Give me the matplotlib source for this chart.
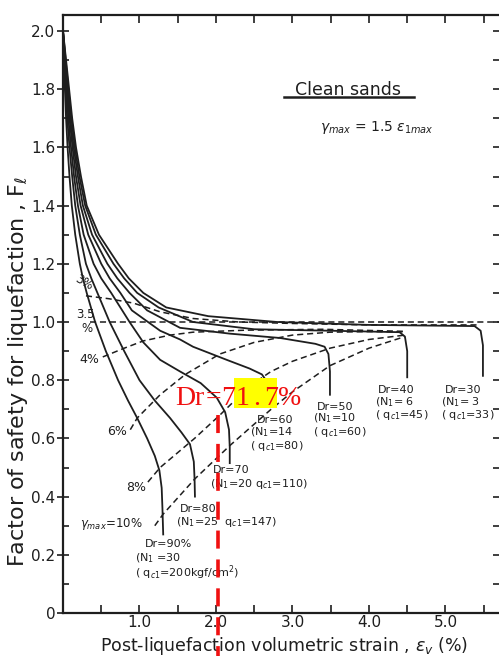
import matplotlib.pyplot as plt
from matplotlib.patches import Rectangle
from matplotlib.ticker import MultipleLocator

# solid curves, one per relative density Dr (%)
dr90_x = [0.0, 0.01, 0.025, 0.04, 0.06, 0.085, 0.115, 0.16, 0.22, 0.26, 0.31, 0.42, 0.56, 0.72, 0.85,
          0.97, 1.10, 1.20, 1.26, 1.29, 1.30, 1.31]
dr90_y = [2.0, 1.9, 1.8, 1.7, 1.6, 1.5, 1.4, 1.3, 1.2, 1.15, 1.1, 1.0, 0.90, 0.80, 0.73,
          0.67, 0.60, 0.54, 0.49, 0.43, 0.36, 0.27]
dr80_x = [0.0, 0.015, 0.035, 0.055, 0.085, 0.12, 0.16, 0.22, 0.30, 0.37, 0.45, 0.61, 0.80, 1.00, 1.20,
          1.40, 1.55, 1.66, 1.71, 1.72, 1.725]
dr80_y = [2.0, 1.9, 1.8, 1.7, 1.6, 1.5, 1.4, 1.3, 1.2, 1.15, 1.1, 1.0, 0.90, 0.80, 0.73,
          0.67, 0.62, 0.58, 0.52, 0.46, 0.40]
dr70_x = [0.0, 0.02, 0.045, 0.07, 0.105, 0.145, 0.195, 0.27, 0.40, 0.50, 0.63, 0.87, 1.05, 1.27, 1.53,
          1.80, 2.01, 2.12, 2.17, 2.18, 2.18]
dr70_y = [2.0, 1.9, 1.8, 1.7, 1.6, 1.5, 1.4, 1.3, 1.2, 1.15, 1.1, 1.0, 0.93, 0.87, 0.83,
          0.79, 0.74, 0.69, 0.63, 0.57, 0.515]
dr60_x = [0.0, 0.025, 0.055, 0.085, 0.125, 0.17, 0.23, 0.33, 0.50, 0.61, 0.75, 0.90, 1.27, 1.53, 1.70,
          2.14, 2.44, 2.60, 2.68, 2.71, 2.72]
dr60_y = [2.0, 1.9, 1.8, 1.7, 1.6, 1.5, 1.4, 1.3, 1.2, 1.15, 1.1, 1.04, 0.97, 0.94, 0.915,
          0.87, 0.84, 0.82, 0.79, 0.75, 0.72]
dr50_x = [0.0, 0.03, 0.06, 0.095, 0.14, 0.195, 0.26, 0.38, 0.58, 0.71, 0.87, 1.10, 1.53, 2.18, 2.84,
          3.30, 3.42, 3.47, 3.49, 3.49]
dr50_y = [2.0, 1.9, 1.8, 1.7, 1.6, 1.5, 1.4, 1.3, 1.2, 1.15, 1.1, 1.04, 0.98, 0.96, 0.945,
          0.925, 0.915, 0.89, 0.83, 0.75]
dr40_x = [0.0, 0.035, 0.07, 0.11, 0.155, 0.215, 0.29, 0.43, 0.66, 0.80, 0.97, 1.25, 1.70, 2.50, 3.50,
          4.40, 4.47, 4.50, 4.50]
dr40_y = [2.0, 1.9, 1.8, 1.7, 1.6, 1.5, 1.4, 1.3, 1.2, 1.15, 1.1, 1.05, 1.00, 0.975, 0.97,
          0.965, 0.95, 0.90, 0.81]
dr30_x = [0.0, 0.04, 0.08, 0.12, 0.17, 0.235, 0.31, 0.47, 0.72, 0.86, 1.05, 1.35, 1.90, 2.80, 4.00,
          5.38, 5.46, 5.49, 5.49]
dr30_y = [2.0, 1.9, 1.8, 1.7, 1.6, 1.5, 1.4, 1.3, 1.2, 1.15, 1.1, 1.05, 1.02, 1.00, 0.99,
          0.986, 0.97, 0.92, 0.815]

# dashed curves of equal maximum shear strain
g3_x = [0.30, 0.60, 0.92, 1.27, 1.70, 2.30, 3.00, 4.00, 5.45]
g3_y = [1.09, 1.08, 1.065, 1.035, 1.012, 1.0, 0.995, 0.99, 0.99]
g4_x = [0.52, 0.80, 1.05, 1.40, 1.70, 2.40, 3.40, 4.45]
g4_y = [0.88, 0.91, 0.935, 0.955, 0.965, 0.972, 0.975, 0.968]
g6_x = [0.88, 0.97, 1.27, 1.60, 2.05, 2.50, 3.00, 3.49, 4.00, 4.47]
g6_y = [0.63, 0.67, 0.75, 0.82, 0.89, 0.93, 0.955, 0.965, 0.967, 0.966]
g8_x = [1.11, 1.27, 1.72, 2.05, 2.44, 2.72, 3.00, 3.49, 4.00, 4.47]
g8_y = [0.45, 0.50, 0.60, 0.68, 0.78, 0.83, 0.865, 0.91, 0.94, 0.955]
g10_x = [1.20, 1.31, 1.72, 2.00, 2.18, 2.72, 3.00, 3.49, 4.00, 4.47]
g10_y = [0.30, 0.34, 0.46, 0.53, 0.575, 0.70, 0.76, 0.85, 0.91, 0.95]

fs_line = 1.0     # factor of safety = 1.0
ev_marker = 2.02  # red marker strain
dr_text = 'Dr=71.7'

yticks = [0, 0.2, 0.4, 0.6, 0.8, 1.0, 1.2, 1.4, 1.6, 1.8, 2.0]
ytick_labels = ['0', '0.2', '0.4', '0.6', '0.8', '1.0', '1.2', '1.4', '1.6', '1.8', '2.0']
xticks = [1, 2, 3, 4, 5]
xtick_labels = ['1.0', '2.0', '3.0', '4.0', '5.0']

ink = '#1e1e1e'

fig = plt.figure(figsize=(4.99, 6.56), dpi=100)
ax = fig.add_axes([63/499, 1-613/656, 436/499, 598/656])

for xs, ys in [(dr90_x, dr90_y), (dr80_x, dr80_y), (dr70_x, dr70_y), (dr60_x, dr60_y),
               (dr50_x, dr50_y), (dr40_x, dr40_y), (dr30_x, dr30_y)]:
    ax.plot(xs, ys, color=ink, lw=1.3, solid_joinstyle='round')

for xs, ys in [(g3_x, g3_y), (g4_x, g4_y), (g6_x, g6_y), (g8_x, g8_y), (g10_x, g10_y)]:
    ax.plot(xs, ys, color=ink, lw=1.1, dashes=(4, 2.5))

ax.axhline(fs_line, xmin=0.35/5.70, color=ink, lw=1.1, dashes=(4, 2.5))

ax.set_xlim(0, 5.70)
ax.set_ylim(0, 2.055)

ax.set_xticks(xticks)
ax.set_xticklabels(xtick_labels)
ax.set_yticks(yticks)
ax.set_yticklabels(ytick_labels)
ax.xaxis.set_minor_locator(MultipleLocator(0.5))
ax.yaxis.set_minor_locator(MultipleLocator(0.1))
ax.tick_params(axis='both', which='both', direction='in', top=True, right=True,
               labelsize=11, colors=ink, width=1.2)
ax.tick_params(axis='both', which='major', length=6)
ax.tick_params(axis='both', which='minor', length=4)
ax.tick_params(axis='x', which='minor', top=True, length=6)
ax.tick_params(axis='x', which='major', pad=1.5)
ax.tick_params(axis='y', which='major', direction='inout', length=8, pad=1.5)
for side in ['left', 'bottom', 'top']:
    ax.spines[side].set_linewidth(1.6)
    ax.spines[side].set_color(ink)
ax.spines['right'].set_visible(False)

ax.set_xlabel('Post-liquefaction volumetric strain , $\\epsilon_v$ (%)', fontsize=12.5, color=ink)
ax.xaxis.set_label_coords(0.507, -0.037)
ax.set_ylabel('Factor of safety for liquefaction , F$_\\ell$', fontsize=16, color=ink)
ax.yaxis.set_label_coords(-0.076, 0.405)

# headings
ax.text(3.725, 1.78, 'Clean sands', fontsize=12.5, ha='center', va='baseline', color=ink)
ax.plot([0.507, 0.806], [0.863, 0.863], transform=ax.transAxes, color=ink, lw=1.8)
ax.text(4.1, 1.67, '$\\gamma_{max}$ = 1.5 $\\varepsilon_{1max}$', fontsize=10, ha='center', va='center', color=ink)

# strain labels
ax.text(0.13, 1.11, '3%', fontsize=8.5, color=ink, rotation=-30)
ax.text(0.17, 1.015, '3.5', fontsize=8.5, color=ink)
ax.text(0.24, 0.965, '%', fontsize=8.5, color=ink)
ax.text(0.22, 0.86, '4%', fontsize=9, color=ink)
ax.text(0.58, 0.61, '6%', fontsize=9, color=ink)
ax.text(0.82, 0.42, '8%', fontsize=9, color=ink)
ax.text(0.22, 0.295, '$\\gamma_{max}$=10%', fontsize=8.5, color=ink)

# density labels
lab = dict(fontsize=8, color=ink, va='center')
ax.text(1.07, 0.236, 'Dr=90%', **lab)
ax.text(0.94, 0.19, '(N$_1$ =30', **lab)
ax.text(0.94, 0.139, '( q$_{c1}$=200kgf/cm$^2$)', **lab)
ax.text(1.53, 0.356, 'Dr=80', **lab)
ax.text(1.48, 0.312, '(N$_1$=25  q$_{c1}$=147)', **lab)
ax.text(1.96, 0.49, 'Dr=70', **lab)
ax.text(1.92, 0.443, '(N$_1$=20 q$_{c1}$=110)', **lab)
ax.text(2.53, 0.663, 'Dr=60', **lab)
ax.text(2.45, 0.622, '(N$_1$=14', **lab)
ax.text(2.45, 0.574, '( q$_{c1}$=80)', **lab)
ax.text(3.32, 0.708, 'Dr=50', **lab)
ax.text(3.27, 0.668, '(N$_1$=10', **lab)
ax.text(3.27, 0.622, '( q$_{c1}$=60)', **lab)
ax.text(4.12, 0.766, 'Dr=40', **lab)
ax.text(4.08, 0.725, '(N$_1$= 6', **lab)
ax.text(4.08, 0.68, '( q$_{c1}$=45)', **lab)
ax.text(4.99, 0.766, 'Dr=30', **lab)
ax.text(4.94, 0.725, '(N$_1$= 3', **lab)
ax.text(4.94, 0.68, '( q$_{c1}$=33)', **lab)

# red marker line and highlighted value
ax.plot([ev_marker, ev_marker], [0.68, -0.15], color='#f01010', lw=2.6, dashes=(5, 3),
        clip_on=False, zorder=5)
ax.add_patch(Rectangle((2.235, 0.705), 0.562, 0.103, facecolor='#ffff00', edgecolor='none', zorder=4))
cell = 0.187
for i, ch in enumerate(dr_text):
    ax.text(1.503 + (i + 0.5) * cell, 0.715, ch, fontsize=20, family='Liberation Serif',
            color='#f01010', ha='center', va='baseline', zorder=6)
ax.text(2.81, 0.715, '%', fontsize=20, family='Liberation Serif', color='#f01010',
        ha='left', va='baseline', zorder=6)

fig.savefig('out.png', dpi=100)
